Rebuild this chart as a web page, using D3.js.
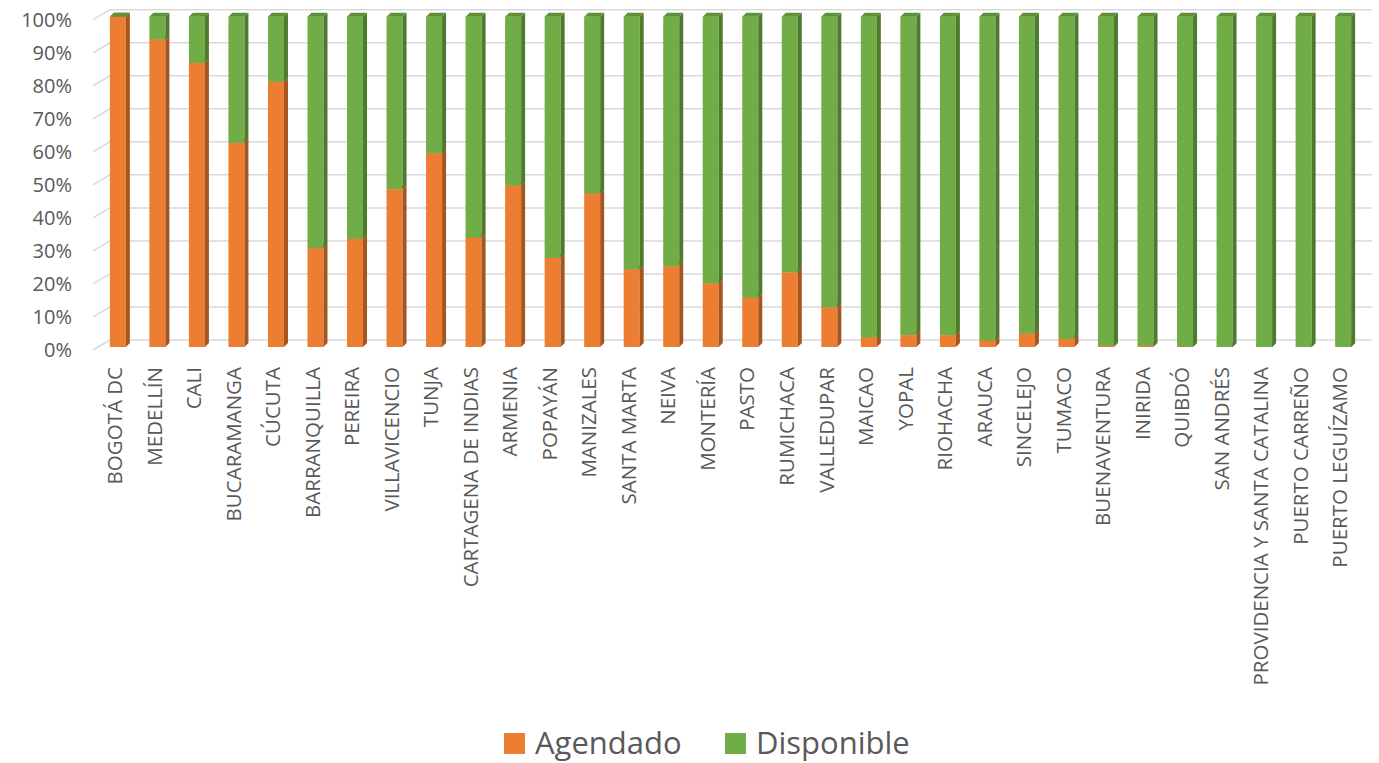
<!DOCTYPE html>
<html>
<head>
<meta charset="utf-8">
<script src="https://cdn.jsdelivr.net/npm/d3@7"></script>
<style>
  body { margin: 0; background: #ffffff; }
  .label { font-family: "Open Sans", "Noto Sans", sans-serif; fill: #595959; }
</style>
</head>
<body>
<div id="Chart"></div>
<script>
var categories = ["BOGOTÁ DC", "MEDELLÍN", "CALI", "BUCARAMANGA", "CÚCUTA", "BARRANQUILLA",
  "PEREIRA", "VILLAVICENCIO", "TUNJA", "CARTAGENA DE INDIAS", "ARMENIA", "POPAYÁN",
  "MANIZALES", "SANTA MARTA", "NEIVA", "MONTERÍA", "PASTO", "RUMICHACA", "VALLEDUPAR",
  "MAICAO", "YOPAL", "RIOHACHA", "ARAUCA", "SINCELEJO", "TUMACO", "BUENAVENTURA",
  "INIRIDA", "QUIBDÓ", "SAN ANDRÉS", "PROVIDENCIA Y SANTA CATALINA", "PUERTO CARREÑO",
  "PUERTO LEGUÍZAMO"];

var agendado = [100, 93.1, 86.0, 61.8, 80.3, 30.0, 32.8, 47.8, 58.6, 33.1, 48.9, 27.0,
  46.5, 23.5, 24.5, 19.3, 14.9, 22.6, 12.0, 2.9, 3.6, 3.6, 1.9, 4.1, 2.5, 0.4,
  0.4, 0.1, 0, 0, 0, 0];

var disponible = [0, 6.9, 14.0, 38.2, 19.7, 70.0, 67.2, 52.2, 41.4, 66.9, 51.1, 73.0,
  53.5, 76.5, 75.5, 80.7, 85.1, 77.4, 88.0, 97.1, 96.4, 96.4, 98.1, 95.9, 97.5, 99.6,
  99.6, 99.9, 100, 100, 100, 100];

var seriesNames = ["Agendado", "Disponible"];
var tickValues = [0, 10, 20, 30, 40, 50, 60, 70, 80, 90, 100];
var tickLabels = ["0%", "10%", "20%", "30%", "40%", "50%", "60%", "70%", "80%", "90%", "100%"];

var width = 1379, height = 763;
var depth = 4;       // bar depth offset
var wallShift = 7;   // back wall offset

var colors = d3.scaleOrdinal()
    .domain(seriesNames)
    .range(["#ED7D31", "#70AD47"]);
var sideColors = d3.scaleOrdinal()
    .domain(seriesNames)
    .range(["#A3561F", "#4E7A2E"]);
var topColors = d3.scaleOrdinal()
    .domain(seriesNames)
    .range(["#C8682A", "#5E9138"]);

var table = categories.map(function(c, i) {
  return { cat: c, Agendado: agendado[i], Disponible: disponible[i] };
});
var stacked = d3.stack().keys(seriesNames)(table);

var svg = d3.select("#Chart")
    .append("svg")
    .attr("width", width)
    .attr("height", height);

var x = d3.scaleBand()
    .domain(categories)
    .range([98, 1363])
    .paddingInner(0.595)
    .paddingOuter(0.3);

var y = d3.scaleLinear()
    .domain([0, 100])
    .range([347, 16.7]);

// gridlines with the little side wall segment
svg.append("g")
  .attr("class", "grid")
  .selectAll("path")
  .data(tickValues)
  .enter()
  .append("path")
  .attr("d", function(d) {
    var yy = y(d);
    return "M93," + (yy + 3) + "L110," + (yy - wallShift) + "L1372," + (yy - wallShift);
  })
  .attr("fill", "none")
  .attr("stroke", "#D9D9D9")
  .attr("stroke-width", 1.5);

// y axis labels
var yAxis = svg.append("g")
  .attr("transform", "translate(72,3.5)")
  .call(d3.axisLeft(y)
    .tickValues(tickValues)
    .tickFormat(function(d, i) { return tickLabels[i]; })
    .tickSize(0)
    .tickPadding(0));
yAxis.select(".domain").remove();
yAxis.selectAll("text")
  .attr("class", "label")
  .attr("font-family", null)
  .style("font-size", "20px")
  .attr("fill", null);

// bars as little boxes: front, side, top
var layers = svg.selectAll(".layer")
  .data(stacked)
  .enter()
  .append("g")
  .attr("class", "layer");

var boxes = layers.selectAll(".box")
  .data(function(s) { return s.map(function(d) { return { key: s.key, d: d }; }); })
  .enter()
  .append("g")
  .attr("class", "box");

boxes.append("rect")
  .attr("x", function(b) { return x(b.d.data.cat); })
  .attr("y", function(b) { return y(b.d[1]); })
  .attr("width", x.bandwidth())
  .attr("height", function(b) { return y(b.d[0]) - y(b.d[1]); })
  .attr("fill", function(b) { return colors(b.key); });

boxes.append("path")
  .attr("d", function(b) {
    var x1 = x(b.d.data.cat) + x.bandwidth();
    var y0 = y(b.d[1]), y1 = y(b.d[0]);
    return "M" + x1 + "," + y0 + "L" + (x1 + depth) + "," + (y0 - depth) +
      "L" + (x1 + depth) + "," + (y1 - depth) + "L" + x1 + "," + y1 + "Z";
  })
  .attr("fill", function(b) { return sideColors(b.key); });

boxes.append("path")
  .attr("d", function(b) {
    var x0 = x(b.d.data.cat);
    var x1 = x0 + x.bandwidth();
    var y0 = y(b.d[1]);
    return "M" + x0 + "," + y0 + "L" + (x0 + depth) + "," + (y0 - depth) +
      "L" + (x1 + depth) + "," + (y0 - depth) + "L" + x1 + "," + y0 + "Z";
  })
  .attr("fill", function(b) { return topColors(b.key); });

// category labels, rotated
svg.append("g")
  .selectAll("text")
  .data(categories)
  .enter()
  .append("text")
  .attr("class", "label")
  .attr("transform", function(d) {
    return "translate(" + (x(d) + x.bandwidth() / 2 - 3) + ",367) rotate(-90)";
  })
  .attr("text-anchor", "end")
  .attr("dy", "0.35em")
  .style("font-size", "20.5px")
  .text(function(d) { return d; });

// legend
var legendX = [504, 725];
var legend = svg.append("g")
  .selectAll("g")
  .data(seriesNames)
  .enter()
  .append("g")
  .attr("transform", function(d, i) { return "translate(" + legendX[i] + ",733)"; });

legend.append("rect")
  .attr("width", 21)
  .attr("height", 21)
  .attr("fill", function(d) { return colors(d); });

legend.append("text")
  .attr("class", "label")
  .attr("x", 31)
  .attr("y", 21)
  .style("font-size", "31px")
  .text(function(d) { return d; });
</script>
</body>
</html>
